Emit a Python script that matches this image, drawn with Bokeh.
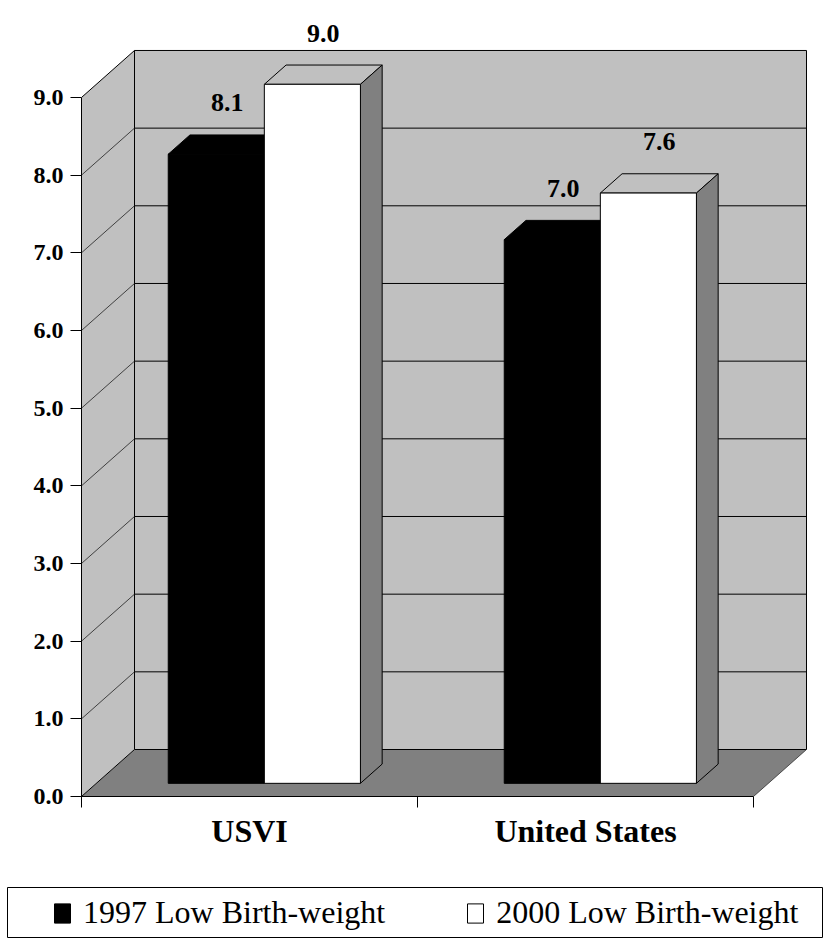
from bokeh.plotting import figure
from bokeh.layouts import column
from bokeh.models import (Range1d, FixedTicker, PrintfTickFormatter, Legend,
                          LegendItem, ColumnDataSource)
from bokeh.core.properties import value
from bokeh.embed import file_html
from bokeh.resources import INLINE

# ---------------- data ----------------
categories = ["USVI", "United States"]
series_names = ["1997 Low Birth-weight", "2000 Low Birth-weight"]
values_1997 = [8.1, 7.0]
values_2000 = [9.0, 7.6]
y_ticks = [0, 1, 2, 3, 4, 5, 6, 7, 8, 9]

# ---------------- layout constants ----------------
FONT = "Liberation Serif"
W = 825
H_CHART = 870
H_LEG = 70
BORDER_L, BORDER_B = 81, 74
PX_Y = 77.67          # pixels per y unit
PX_X = 336.0          # pixels per category
frame_w = W - BORDER_L
frame_h = H_CHART - BORDER_B
y_max = frame_h / PX_Y
x_max = frame_w / PX_X

DX = 53 / PX_X        # depth offset (x) of the back wall
DY = 47 / PX_Y        # depth offset (y) of the back wall
Z0, Z1 = 0.28, 0.69   # bar depth (fraction of the floor depth)
BAR_W = 0.286         # bar width in category units
LABEL_GAP = 0.66
WALL_TOP = max(y_ticks)
n = len(categories)

WALL = "#C0C0C0"
FLOOR = "#808080"
SIDE = "#808080"

p = figure(width=W, height=H_CHART, x_range=Range1d(0, x_max), y_range=Range1d(0, y_max),
           output_backend="svg", toolbar_location=None, title=None,
           min_border_left=BORDER_L, min_border_right=0, min_border_top=0,
           min_border_bottom=BORDER_B)
p.outline_line_color = None
p.xgrid.visible = False
p.ygrid.visible = False
p.background_fill_color = "white"
p.border_fill_color = "white"

# ---------------- walls & floor ----------------
p.patch([0, n, n + DX, DX], [0, 0, DY, DY], fill_color=FLOOR, line_color=None)
p.patch([0, DX, DX, 0], [0, DY, WALL_TOP + DY, WALL_TOP], fill_color=WALL, line_color=None)
p.quad(left=[DX], right=[n + DX], bottom=[DY], top=[WALL_TOP + DY],
       fill_color=WALL, line_color="black", line_width=1)

inner = [t for t in y_ticks if 0 < t < WALL_TOP]
p.segment(x0=[DX] * len(inner), y0=[t + DY for t in inner],
          x1=[n + DX] * len(inner), y1=[t + DY for t in inner],
          line_color="black", line_width=1)
p.segment(x0=[0] * len(inner), y0=inner, x1=[DX] * len(inner),
          y1=[t + DY for t in inner], line_color="#202020", line_width=0.8)
p.segment(x0=[0, 0], y0=[WALL_TOP, 0], x1=[DX, DX], y1=[WALL_TOP + DY, DY],
          line_color="black", line_width=1)
p.segment(x0=[n], y0=[0], x1=[n + DX], y1=[DY], line_color="#303030", line_width=0.8)


# ---------------- bars ----------------
def draw_series(vals, offset, fill, top_fill, side_fill, name):
    lefts = [i + 0.5 + offset for i in range(n)]
    rights = [l + BAR_W for l in lefts]
    tops_x, tops_y, sides_x, sides_y = [], [], [], []
    for l, r, v in zip(lefts, rights, vals):
        tops_x.append([l + Z0 * DX, r + Z0 * DX, r + Z1 * DX, l + Z1 * DX])
        tops_y.append([v + Z0 * DY, v + Z0 * DY, v + Z1 * DY, v + Z1 * DY])
        sides_x.append([r + Z0 * DX, r + Z1 * DX, r + Z1 * DX, r + Z0 * DX])
        sides_y.append([Z0 * DY, Z1 * DY, v + Z1 * DY, v + Z0 * DY])
    p.patches(tops_x, tops_y, fill_color=top_fill, line_color="black", line_width=1)
    p.patches(sides_x, sides_y, fill_color=side_fill, line_color="black", line_width=1)
    src = ColumnDataSource(dict(
        left=[l + Z0 * DX for l in lefts], right=[r + Z0 * DX for r in rights],
        bottom=[Z0 * DY] * n, top=[v + Z0 * DY for v in vals]))
    p.quad(left="left", right="right", bottom="bottom", top="top", source=src,
           fill_color=fill, line_color="black", line_width=1, name=name)
    zm = (Z0 + Z1) / 2
    p.text(x=[(l + r) / 2 + zm * DX for l, r in zip(lefts, rights)],
           y=[v + Z0 * DY + LABEL_GAP for v in vals],
           text=[f"{v:.1f}" for v in vals],
           text_font=value(FONT), text_font_style="bold", text_font_size="26px",
           text_align="center", text_baseline="alphabetic", text_color="black")


draw_series(values_1997, -BAR_W, "black", "black", "black", series_names[0])
draw_series(values_2000, 0.0, "white", WALL, SIDE, series_names[1])

# ---------------- axes ----------------
ya = p.yaxis[0]
ya.ticker = FixedTicker(ticks=y_ticks)
ya.formatter = PrintfTickFormatter(format="%.1f")
ya.bounds = (0, WALL_TOP)
ya.major_tick_out = 11
ya.major_tick_in = 0
ya.minor_tick_out = 0
ya.minor_tick_in = 0
ya.major_label_standoff = 7
ya.major_label_text_font = FONT
ya.major_label_text_font_style = "bold"
ya.major_label_text_font_size = "24px"
ya.major_label_text_color = "black"
ya.axis_line_color = "black"
ya.major_tick_line_color = "black"

xa = p.xaxis[0]
centers = [i + 0.5 for i in range(n)]
xa.ticker = FixedTicker(ticks=centers, minor_ticks=list(range(n + 1)))
xa.major_label_overrides = {c: name for c, name in zip(centers, categories)}
xa.bounds = (0, n)
xa.major_tick_out = 0
xa.major_tick_in = 0
xa.minor_tick_out = 11
xa.minor_tick_in = 0
xa.minor_tick_line_color = "black"
xa.major_label_standoff = 5
xa.major_label_text_font = FONT
xa.major_label_text_font_style = "bold"
xa.major_label_text_font_size = "32px"
xa.major_label_text_color = "black"
xa.axis_line_color = "black"

# ---------------- legend panel ----------------
top_y = H_CHART
q = figure(width=W, height=H_LEG, x_range=Range1d(0, W),
           y_range=Range1d(top_y + H_LEG, top_y),
           output_backend="svg", toolbar_location=None, title=None,
           x_axis_location=None, y_axis_location=None,
           min_border_left=0, min_border_right=0, min_border_top=0, min_border_bottom=0)
q.outline_line_color = None
q.xgrid.visible = False
q.ygrid.visible = False
q.border_fill_color = "white"
q.background_fill_color = "white"
for fig in (p, q):
    if "frame_align" in fig.properties():
        fig.frame_align = False

q.quad(left=[7], right=[W - 3], top=[887], bottom=[937],
       fill_color=None, line_color="black", line_width=1)
nan = float("nan")
dummy = dict(left=[nan], right=[nan], top=[nan], bottom=[nan])
g97 = q.quad(left="left", right="right", top="top", bottom="bottom",
             source=ColumnDataSource(dummy), fill_color="black", line_color="black")
g00 = q.quad(left="left", right="right", top="top", bottom="bottom",
             source=ColumnDataSource(dict(dummy)), fill_color="white", line_color="black")
legend = Legend(items=[LegendItem(label=series_names[0], renderers=[g97]),
                       LegendItem(label=series_names[1], renderers=[g00])],
                orientation="horizontal", location=(52, 9),
                border_line_color=None, background_fill_alpha=0,
                padding=0, margin=0, spacing=80, glyph_width=20, glyph_height=24,
                label_standoff=11, label_text_font=FONT, label_text_font_size="32px",
                label_text_color="black")
q.add_layout(legend)

layout = column(p, q, spacing=0)
open("out.html", "w").write(file_html(layout, INLINE))
